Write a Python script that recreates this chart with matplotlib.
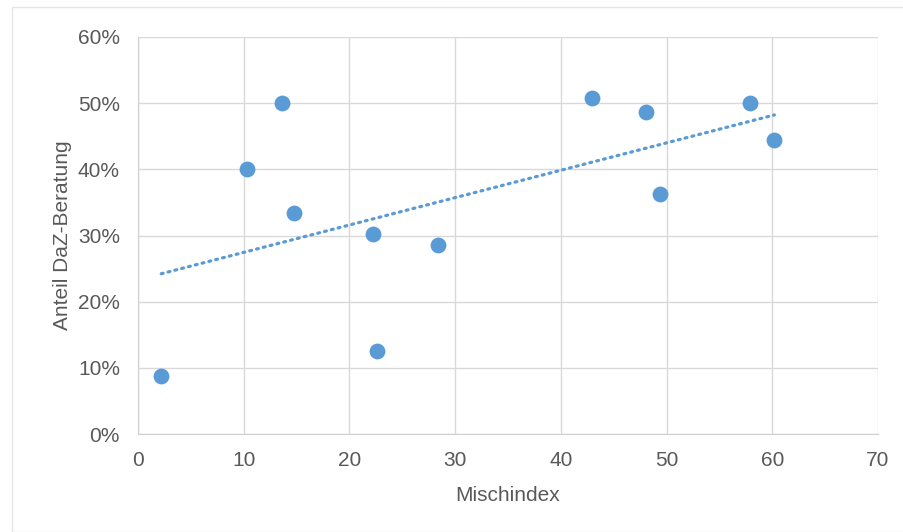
import numpy as np
import matplotlib.pyplot as plt
from matplotlib.patches import Rectangle
from matplotlib.ticker import PercentFormatter

plt.rcParams['font.family'] = ['Liberation Sans', 'DejaVu Sans']

# Mischindex vs. Anteil DaZ-Beratung (%)
mischindex = [2.2, 10.3, 13.6, 14.8, 22.2, 22.6, 28.4, 42.9, 48.1, 49.4, 57.9, 60.2]
anteil_daz = [8.7, 40.0, 50.1, 33.4, 30.3, 12.5, 28.6, 50.8, 48.7, 36.3, 50.1, 44.4]

x_ticks = [0, 10, 20, 30, 40, 50, 60, 70]
y_ticks = [0, 10, 20, 30, 40, 50, 60]

blue = '#5b9bd5'
text_gray = '#595959'

fig = plt.figure(figsize=(9.04, 5.32), dpi=100)
fig.patches.append(Rectangle((12 / 904, 0), 892 / 904, 1 - 7 / 532,
                             transform=fig.transFigure, fill=False,
                             edgecolor='#e6e6e6', linewidth=1))
ax = fig.add_axes([138 / 904, 1 - 434 / 532, 740 / 904, 397 / 532])

ax.scatter(mischindex, anteil_daz, s=130, color=blue, zorder=3, linewidths=0)

# linear trendline (Excel style)
m, b = np.polyfit(mischindex, anteil_daz, 1)
xt = np.array([min(mischindex), max(mischindex)])
ax.plot(xt, m * xt + b, color=blue, linewidth=2.3, linestyle=(0, (0.6, 1.6)),
        dash_capstyle='round', zorder=2)

ax.set_xlim(0, 70)
ax.set_ylim(0, 60)
ax.set_xticks(x_ticks)
ax.set_yticks(y_ticks)
ax.yaxis.set_major_formatter(PercentFormatter(decimals=0))
ax.grid(True, color='#d9d9d9', linewidth=1)
ax.set_axisbelow(True)
for s in ['top', 'right']:
    ax.spines[s].set_visible(False)
for s in ['left', 'bottom']:
    ax.spines[s].set_color('#d0d0d0')
ax.tick_params(length=0, labelsize=15, labelcolor=text_gray)
ax.tick_params(axis='y', pad=13)
ax.tick_params(axis='x', pad=12)

ax.set_xlabel('Mischindex', fontsize=15, color=text_gray, labelpad=12)
ax.set_ylabel('Anteil DaZ-Beratung', fontsize=15, color=text_gray, labelpad=4)

fig.savefig('out.png', dpi=100)
